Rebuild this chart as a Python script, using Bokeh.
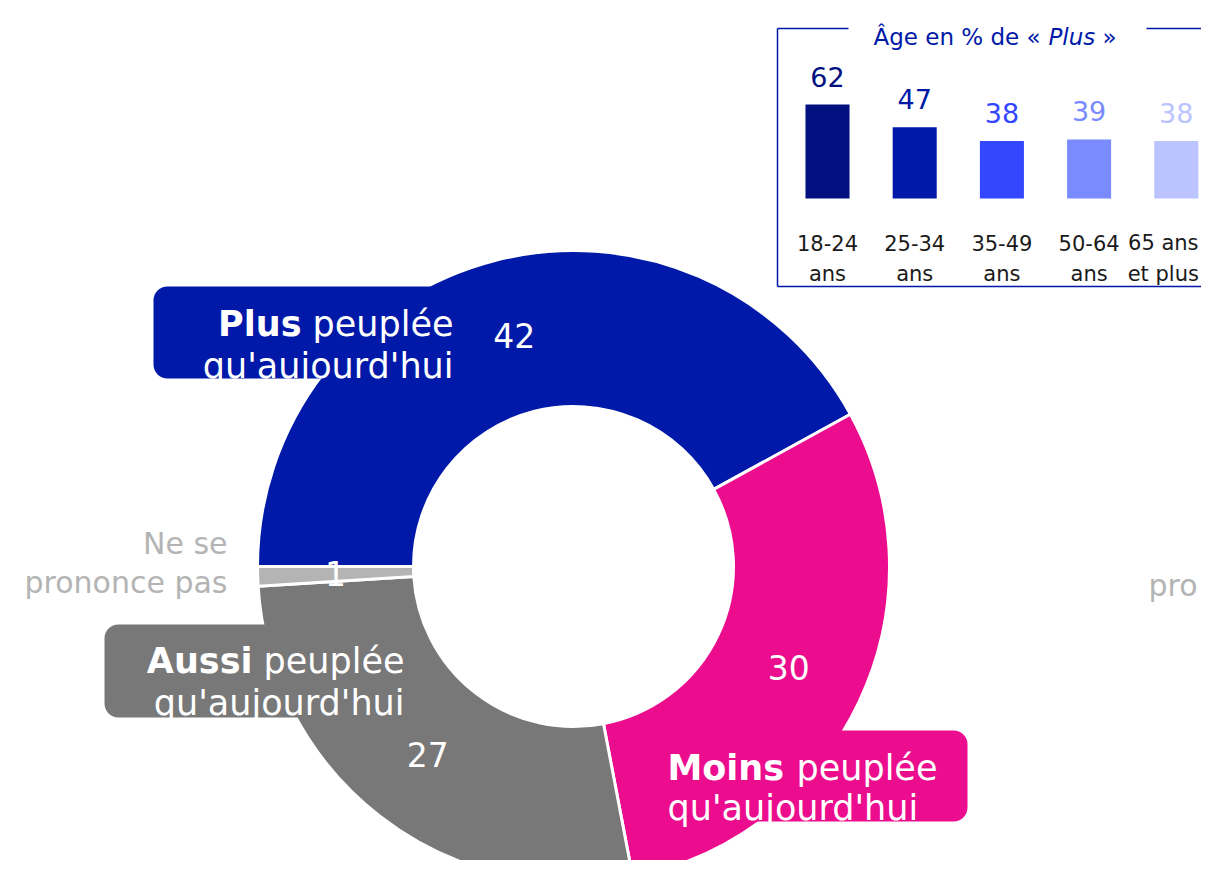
import math
from bokeh.plotting import figure
from bokeh.models import Range1d, ColumnDataSource
from bokeh.core.properties import value
from bokeh.embed import file_html
from bokeh.resources import INLINE

# ---------------- data ----------------
answers = ["Plus peuplée qu'aujourd'hui", "Moins peuplée qu'aujourd'hui",
           "Aussi peuplée qu'aujourd'hui", "Ne se prononce pas"]
shares = [42, 30, 27, 1]
donut_colors = ["#0019A8", "#EC0C8E", "#787878", "#B4B4B4"]

age_groups = ["18-24\nans", "25-34\nans", "35-49\nans", "50-64\nans", "65 ans\net plus"]
plus_by_age = [62, 47, 38, 39, 38]
age_colors = ["#00107F", "#0019A8", "#3347FF", "#7A8AFF", "#BCC4FF"]

FONT = "DejaVu Sans"
W, H = 1201, 860

p = figure(width=W, height=H, x_range=Range1d(0, W), y_range=Range1d(876 - H, 876),
           output_backend="svg", toolbar_location=None, min_border=0)
p.axis.visible = False
p.grid.visible = False
p.outline_line_color = None
p.background_fill_color = "white"
p.border_fill_color = "white"


def sy(y):  # picture y -> data y
    return 876 - y


def txt(x, y, t, size, color="white", align="left", baseline="alphabetic",
        style="normal", x_offset=0, y_offset=0, **kw):
    p.text(x=[x] if not isinstance(x, list) else x,
           y=[y] if not isinstance(y, list) else y,
           text=[t] if not isinstance(t, list) else t,
           text_font=value(FONT), text_font_size=value(size),
           text_color=color if isinstance(color, list) else value(color),
           text_align=value(align), text_baseline=value(baseline),
           text_font_style=value(style), x_offset=x_offset, y_offset=y_offset, **kw)


# ---------------- donut ----------------
cx, cy = 573, sy(566)
r_in, r_out = 160, 316
total = sum(shares)
starts, ends, mids = [], [], []
acc = 0
for v in shares:
    a0 = math.pi - 2 * math.pi * acc / total
    acc += v
    a1 = math.pi - 2 * math.pi * acc / total
    starts.append(a0)
    ends.append(a1)
    mids.append((a0 + a1) / 2)

src = ColumnDataSource(dict(start=starts, end=ends, color=donut_colors, name=answers))
p.annular_wedge(x=cx, y=cy, inner_radius=r_in, outer_radius=r_out,
                start_angle="start", end_angle="end", direction="clock",
                fill_color="color", line_color="white", line_width=3, source=src)

# label boxes (drawn over the ring, same colours)
p.quad(left=[153, 104, 640], right=[470, 412, 967],
       top=[sy(286), sy(624), sy(730)], bottom=[sy(378), sy(717), sy(821)],
       fill_color=[donut_colors[0], donut_colors[2], donut_colors[1]],
       line_color=None, border_radius=14)

# value labels in the ring
r_lab = 238
vx = [cx + r_lab * math.cos(a) for a in mids]
vy = [cy + r_lab * math.sin(a) for a in mids]
txt(vx, vy, [str(v) for v in shares], "33px", color="white", align="center",
    baseline="middle")

# category labels
# Plus
txt(453, sy(323), "peuplée", "35px", align="right")
txt(453, sy(323), "Plus", "35px", align="right", style="bold", x_offset=-152)
txt(453, sy(365), "qu'aujourd'hui", "35px", align="right")
# Aussi
txt(404, sy(660), "peuplée", "35px", align="right")
txt(404, sy(660), "Aussi", "35px", align="right", style="bold", x_offset=-152)
txt(404, sy(702), "qu'aujourd'hui", "35px", align="right")
# Moins
txt(667, sy(767), "Moins", "35px", align="left", style="bold")
txt(667, sy(767), "peuplée", "35px", align="left", x_offset=129)
txt(667, sy(807), "qu'aujourd'hui", "35px", align="left")
# Ne se prononce pas
txt(227, sy(543), "Ne se", "30px", color="#B4B4B4", align="right")
txt(227, sy(582), "prononce pas", "30px", color="#B4B4B4", align="right")
# stray label at right edge
txt(1197, sy(585), "pro", "30px", color="#B4B4B4", align="right")

# ---------------- inset bar chart ----------------
BLUE = "#0019A8"
p.segment(x0=[777, 1146, 777, 777], y0=[sy(28), sy(28), sy(28), sy(286)],
          x1=[848, W, 777, W], y1=[sy(28), sy(28), sy(286), sy(286)],
          line_color=BLUE, line_width=1.5)
txt(873, sy(36), "Âge en % de «", "23px", color=BLUE)
txt(1048, sy(36), "Plus", "23px", color=BLUE, style="italic")
txt(1102, sy(36), "»", "23px", color=BLUE)

# bars on their own scales: index -> x, percentage -> y
p.extra_x_ranges = {"age": Range1d((0 - 827) / 87.2, (W - 827) / 87.2)}
p.extra_y_ranges = {"pct": Range1d((198 - H) / 1.516, 198 / 1.516)}
idx = list(range(len(age_groups)))
bsrc = ColumnDataSource(dict(x=idx, top=plus_by_age, color=age_colors,
                             label=[str(v) for v in plus_by_age],
                             l1=[a.split("\n")[0] for a in age_groups],
                             l2=[a.split("\n")[1] for a in age_groups],
                             zero=[0] * len(idx),
                             dx=[0, 0, 0, 0, -13]))
p.vbar(x="x", top="top", bottom=0, width=0.505, fill_color="color", line_color=None,
       source=bsrc, x_range_name="age", y_range_name="pct")
p.text(x="x", y="top", text="label", source=bsrc, x_range_name="age", y_range_name="pct",
       text_font=value(FONT), text_font_size=value("27px"), text_color="color",
       text_align=value("center"), text_baseline=value("middle"), y_offset=-28)
for col, off in (("l1", 44), ("l2", 75)):
    p.text(x="x", y="zero", text=col, source=bsrc, x_range_name="age", y_range_name="pct",
           text_font=value(FONT), text_font_size=value("21px"), text_color=value("#1A1A1A"),
           text_align=value("center"), text_baseline=value("alphabetic"),
           x_offset="dx", y_offset=off)

open("out.html", "w").write(file_html(p, INLINE))
